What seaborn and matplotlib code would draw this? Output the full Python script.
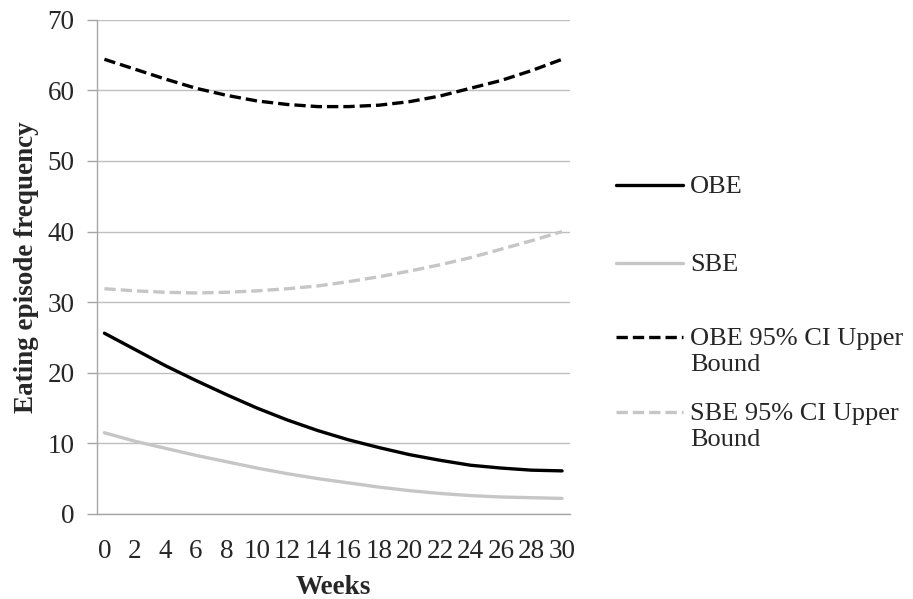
import pandas as pd
import seaborn as sns
import matplotlib.pyplot as plt
from matplotlib.lines import Line2D

sns.set_style('white')
plt.rcParams['font.family'] = ['Liberation Serif', 'DejaVu Serif']

weeks = [0, 2, 4, 6, 8, 10, 12, 14, 16, 18, 20, 22, 24, 26, 28, 30]
obe = [25.6, 23.3, 21.0, 18.9, 16.9, 15.0, 13.3, 11.8, 10.5, 9.4, 8.4, 7.6, 6.9, 6.5, 6.2, 6.1]
sbe = [11.5, 10.3, 9.3, 8.3, 7.4, 6.5, 5.7, 5.0, 4.4, 3.8, 3.3, 2.9, 2.6, 2.4, 2.3, 2.2]
obe_ci = [64.4, 63.0, 61.6, 60.3, 59.3, 58.5, 58.0, 57.7, 57.7, 57.9, 58.4, 59.2, 60.3, 61.4, 62.8, 64.4]
sbe_ci = [31.9, 31.6, 31.4, 31.3, 31.4, 31.6, 31.9, 32.3, 32.9, 33.6, 34.4, 35.3, 36.3, 37.5, 38.7, 40.0]

series = ['OBE', 'SBE', 'OBE 95% CI Upper Bound', 'SBE 95% CI Upper Bound']
legend_labels = ['OBE', 'SBE', 'OBE 95% CI Upper\nBound', 'SBE 95% CI Upper\nBound']
colors = {'OBE': 'black', 'SBE': '#c6c6c6',
          'OBE 95% CI Upper Bound': 'black', 'SBE 95% CI Upper Bound': '#c6c6c6'}
dashes = {'OBE': '', 'SBE': '',
          'OBE 95% CI Upper Bound': (3.4, 1.5), 'SBE 95% CI Upper Bound': (3.4, 1.5)}

df = pd.concat([pd.DataFrame({'week': weeks, 'value': v, 'series': s})
                for s, v in zip(series, [obe, sbe, obe_ci, sbe_ci])])

fig = plt.figure(figsize=(9.13, 5.99), dpi=100)
ax = fig.add_axes([0.106, 0.142, 0.518, 0.825])

sns.lineplot(data=df, x='week', y='value', hue='series', style='series',
             palette=colors, dashes=dashes, hue_order=series, style_order=series,
             linewidth=2.4, legend=False, ax=ax)

ax.set_xlim(-0.5, 30.5)
ax.set_ylim(0, 70)
ax.set_xticks(range(0, 31, 2))
ax.set_yticks(range(0, 71, 10))
ax.tick_params(axis='x', length=0, pad=18, labelsize=19.5)
ax.tick_params(axis='y', length=7, width=1, color='#a6a6a6', direction='out',
               pad=9, labelsize=19.5, left=True)
ax.grid(axis='y', color='#bfbfbf', linewidth=1)
ax.set_axisbelow(True)
for side in ['top', 'right']:
    ax.spines[side].set_visible(False)
for side in ['left', 'bottom']:
    ax.spines[side].set_color('#a6a6a6')
    ax.spines[side].set_linewidth(1)

ax.set_xlabel('Weeks', fontsize=19.5, fontweight='bold', labelpad=8)
ax.set_ylabel('Eating episode frequency', fontsize=19.5, fontweight='bold', labelpad=6)

# legend drawn by hand so that wrapped labels line up like the original
entry_y = [185, 263, 337, 412]
H = 599.0
W = 913.0
for s, lbl, yp in zip(series, legend_labels, entry_y):
    yf = 1 - yp / H
    ls = '-' if dashes[s] == '' else (0, dashes[s])
    fig.add_artist(Line2D([616 / W, 683 / W], [yf, yf], color=colors[s],
                          linewidth=2.4, linestyle=ls))
    fig.text(690 / W, yf + 9 / H, lbl, fontsize=19, va='top', ha='left',
             linespacing=1.25)

fig.savefig('out.png', dpi=100)
